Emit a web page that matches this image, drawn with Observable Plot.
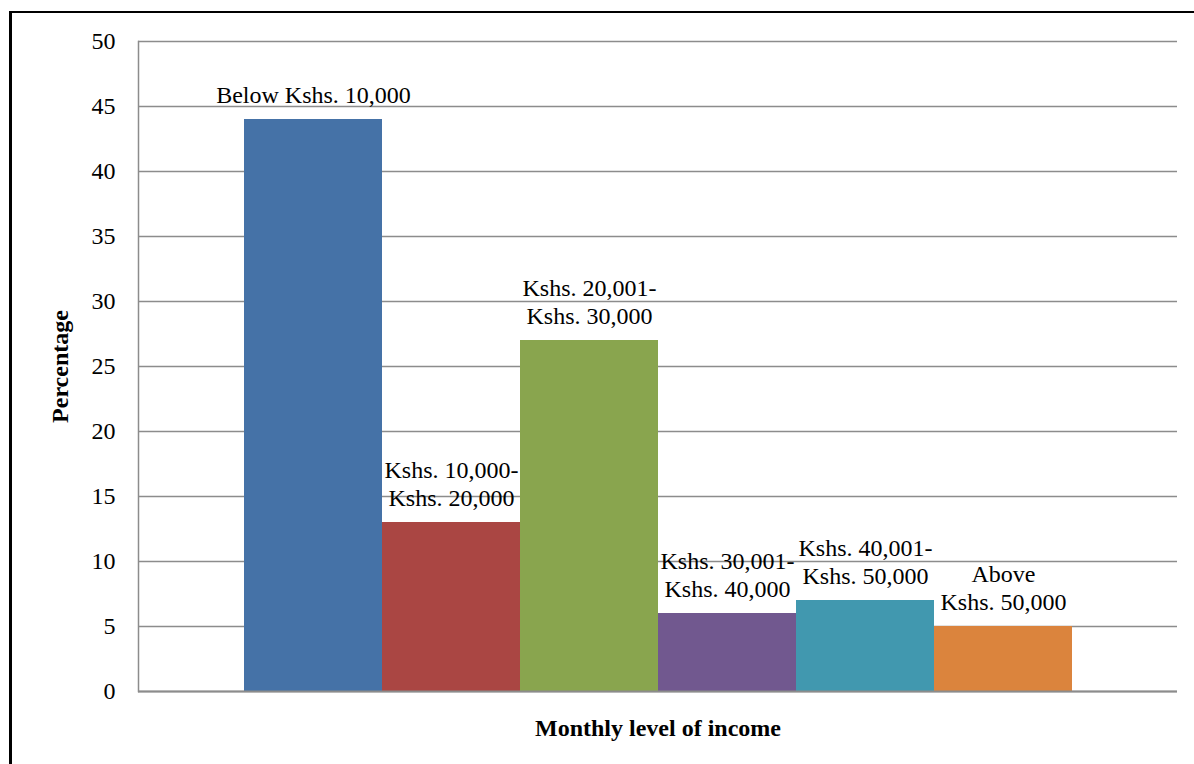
<!DOCTYPE html>
<html>
<head>
<meta charset="utf-8">
<script src="https://cdn.jsdelivr.net/npm/d3@7"></script>
<script src="https://cdn.jsdelivr.net/npm/@observablehq/plot@0.6"></script>
<style>
  html, body { margin: 0; padding: 0; background: #fff; overflow: hidden; }
  #wrap { position: relative; width: 1194px; height: 764px; }
  #border { position: absolute; left: 9px; top: 11px; right: -20px; bottom: -20px;
            border-left: 3px solid #000; border-top: 2px solid #000; pointer-events: none; }
  #chart { position: absolute; left: 0; top: 0; }
</style>
</head>
<body>
<div id="wrap"><div id="chart"></div><div id="border"></div></div>
<script>
const categories = [
  "Below Kshs. 10,000",
  "Kshs. 10,000-\nKshs. 20,000",
  "Kshs. 20,001-\nKshs. 30,000",
  "Kshs. 30,001-\nKshs. 40,000",
  "Kshs. 40,001-\nKshs. 50,000",
  "Above\nKshs. 50,000"
];
const values = [44, 13, 27, 6, 7, 5];
const colors = ["#4572A7", "#AA4643", "#89A54E", "#71588F", "#4198AF", "#DB843D"];
const yTicks = [0, 5, 10, 15, 20, 25, 30, 35, 40, 45, 50];
const yTitle = "Percentage";
const xTitle = "Monthly level of income";

const data = categories.map((c, i) => ({category: c, value: values[i]}));
const font = "'Liberation Serif', 'Times New Roman', serif";
const grid = "#8c8c8c";

const chart = Plot.plot({
  width: 1194,
  height: 764,
  marginLeft: 138,
  marginRight: 17,
  marginTop: 41,
  marginBottom: 73,
  style: {fontFamily: font, fontSize: "24px", color: "#000", background: "transparent"},
  x: {type: "band", domain: categories, paddingInner: 0, paddingOuter: 0.75, axis: null},
  y: {domain: [0, 50], axis: null},
  color: {domain: categories, range: colors},
  marks: [
    Plot.ruleY(yTicks, {stroke: grid, strokeWidth: 1.5}),
    Plot.barY(data, {x: "category", y: "value", fill: "category", inset: 0}),
    Plot.ruleY([0], {stroke: grid, strokeWidth: 2}),
    Plot.frame({anchor: "left", stroke: grid, strokeWidth: 1.5}),
    Plot.axisY({ticks: yTicks, tickSize: 0, tickPadding: 23, label: null, fontSize: 24, fill: "#000"}),
    Plot.text(data, {x: "category", y: "value", text: "category", lineAnchor: "bottom",
      dy: -17, lineHeight: 1.15, fontSize: 24, fill: "#000"}),
    Plot.text([yTitle], {frameAnchor: "left", rotate: -90, dx: -78, textAnchor: "middle",
      fontWeight: "bold", fontSize: 24, fill: "#000"}),
    Plot.text([xTitle], {frameAnchor: "bottom", dy: 44, fontWeight: "bold", fontSize: 24, fill: "#000"})
  ]
});
document.getElementById("chart").appendChild(chart);
</script>
</body>
</html>
